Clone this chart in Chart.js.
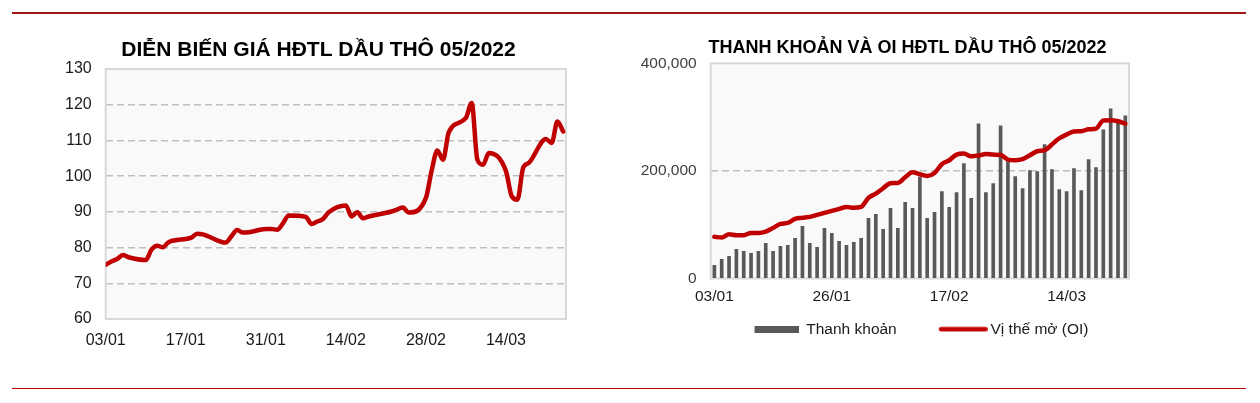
<!DOCTYPE html>
<html lang="vi">
<head>
<meta charset="utf-8">
<title>HĐTL dầu thô 05/2022</title>
<script src="https://cdn.jsdelivr.net/npm/chart.js@4.4.1/dist/chart.umd.min.js"></script>
<style>
  html, body { margin: 0; padding: 0; background: #fff; width: 1260px; height: 403px; overflow: hidden; }
  .rule { position: absolute; left: 12px; width: 1234px; height: 1.5px; }
  #ruleTop { top: 12px; background: #a31515; }
  #ruleBottom { top: 387.5px; background: #c00000; }
  .box { position: absolute; }
  #priceBox { left: 40px; top: 25px; width: 557px; height: 326px; }
  #volBox { left: 620px; top: 25px; width: 575px; height: 322px; }
</style>
</head>
<body>
<div class="rule" id="ruleTop"></div>
<div class="box" id="priceBox"><canvas id="priceChart"></canvas></div>
<div class="box" id="volBox"><canvas id="volChart"></canvas></div>
<div class="rule" id="ruleBottom"></div>
<script>
// trading days (dd/mm, 2022)
const tradeDates = [
  '03/01','04/01','05/01','06/01','07/01','10/01','11/01','12/01','13/01','14/01',
  '18/01','19/01','20/01','21/01','24/01','25/01','26/01','27/01','28/01','31/01',
  '01/02','02/02','03/02','04/02','07/02','08/02','09/02','10/02','11/02','14/02',
  '15/02','16/02','17/02','18/02','22/02','23/02','24/02','25/02','28/02',
  '01/03','02/03','03/03','04/03','07/03','08/03','09/03','10/03','11/03','14/03',
  '15/03','16/03','17/03','18/03','21/03','22/03','23/03','24/03'
];

// left chart: futures price
const crudePrice = [
  75.2, 76.1, 76.8, 77.9, 77.3, 76.5, 79.4, 80.5, 80.1, 81.5,
  82.8, 83.9, 83.7, 83.1, 81.4, 83.2, 84.9, 84.2, 84.3, 85.2,
  85.2, 85.0, 86.8, 89.0, 88.6, 86.6, 87.3, 88.0, 89.9, 91.8,
  88.7, 89.9, 88.2, 88.7, 90.1, 90.7, 91.2, 89.8, 93.9,
  101.5, 107.2, 104.6, 112.3, 116.3, 120.5, 104.6, 103.2, 106.5, 101.4,
  94.4, 93.4, 102.3, 103.7, 110.4, 109.3, 115.3, 112.5
];

// right chart: volume (bars) and open interest (line)
const volume = [
  24700, 35800, 41400, 54300, 50600, 46900, 50600, 65400, 50600, 59900,
  61700, 74700, 96900, 65400, 58000, 93200, 83900, 69100, 61700, 67300,
  74700, 111700, 119100, 91400, 130200, 93200, 141400, 130200, 188300, 111700,
  122800, 161700, 132100, 159900, 213600, 148800, 287700, 159900, 176500,
  284000, 217300, 189500, 167300, 200600, 198800, 248800, 202500, 165400, 161700,
  204300, 163600, 221000, 206200, 276500, 315400, 293000, 302500
];
const openInterest = [
  77400, 76200, 82400, 80500, 80500, 84800, 84800, 87300, 94100, 101500,
  103400, 110800, 112700, 114600, 118300, 122000, 125700, 129400, 133100, 131300,
  133100, 149800, 157900, 167800, 177100, 177700, 188200, 197500, 193800, 190700,
  196300, 212400, 219800, 230300, 232200, 227200, 228500, 231600, 230300,
  229700, 221100, 219800, 221700, 229100, 236500, 238400, 248900, 260700, 267500,
  273100, 273700, 277400, 278600, 293500, 294100, 292300, 287900
];

const FONT = "'Liberation Sans', Arial, sans-serif";
Chart.defaults.font.family = FONT;

// days since 03/01 so the left chart keeps calendar spacing
function dayOffset(label) {
  const [d, m] = label.split('/').map(Number);
  return Math.round((Date.UTC(2022, m - 1, d) - Date.UTC(2022, 0, 3)) / 86400000);
}
function offsetLabel(n) {
  const dt = new Date(Date.UTC(2022, 0, 3 + n));
  return String(dt.getUTCDate()).padStart(2, '0') + '/' + String(dt.getUTCMonth() + 1).padStart(2, '0');
}

// dashed grid, but not on the frame edges
const gridColor = c => (c.tick && (c.tick.value <= c.scale.min || c.tick.value >= c.scale.max)) ? 'rgba(0,0,0,0)' : '#bfbfbf';

// grey plot background + light frame
const plotFrame = {
  id: 'plotFrame',
  beforeDraw(chart) {
    const { ctx, chartArea: a } = chart;
    ctx.save();
    ctx.fillStyle = '#f9f9f9';
    ctx.fillRect(a.left, a.top, a.width, a.height);
    ctx.restore();
  },
  beforeDatasetsDraw(chart) {
    const { ctx, chartArea: a } = chart;
    ctx.save();
    ctx.strokeStyle = '#d9d9d9';
    ctx.lineWidth = 2;
    ctx.strokeRect(a.left, a.top, a.width, a.height);
    ctx.restore();
  }
};

// spacer axis on the right so title/legend sit where they should
const spacerAxis = w => ({
  position: 'right', display: true,
  grid: { display: false }, border: { display: false }, ticks: { display: false },
  afterFit: s => { s.width = w; }
});

new Chart(document.getElementById('priceChart'), {
  type: 'line',
  data: {
    datasets: [{
      label: 'Giá HĐTL dầu thô 05/2022',
      data: tradeDates.map((d, i) => ({ x: dayOffset(d), y: crudePrice[i] })),
      borderColor: '#c00000',
      borderWidth: 4.5,
      pointRadius: 0,
      cubicInterpolationMode: 'monotone',
      borderCapStyle: 'round',
      borderJoinStyle: 'round',
      xAxisID: 'x', yAxisID: 'y'
    }]
  },
  options: {
    responsive: true, maintainAspectRatio: false, animation: false,
    plugins: {
      legend: { display: false },
      tooltip: { enabled: false },
      title: {
        display: true, text: 'DIỄN BIẾN GIÁ HĐTL DẦU THÔ 05/2022', color: '#000',
        font: { size: 21, weight: 'bold' }, padding: { top: 12.6, bottom: 6.2 }
      }
    },
    scales: {
      x: {
        type: 'linear', min: 0, max: 80.5,
        grid: { display: false, drawTicks: false }, border: { display: false },
        ticks: { stepSize: 14, includeBounds: false, padding: 12, maxRotation: 0, color: '#1a1a1a', font: { size: 16 }, callback: v => offsetLabel(v) },
        afterFit: s => { s.height = 32; }
      },
      y: {
        min: 60, max: 130,
        grid: { color: gridColor, lineWidth: 1.5, drawTicks: false },
        border: { display: false, dash: [7, 4] },
        ticks: { stepSize: 10, padding: 14, color: '#1a1a1a', font: { size: 16 } },
        afterFit: s => { s.width = 65.7; }
      },
      yPad: spacerAxis(31)
    }
  },
  plugins: [plotFrame]
});

// legend swatches (drawn inside a 72px legend box, text follows it)
function swatch(w, h, draw) {
  const c = document.createElement('canvas');
  c.width = w; c.height = h;
  draw(c.getContext('2d'));
  return c;
}
const legendBar = swatch(72, 7, g => { g.fillStyle = '#595959'; g.fillRect(28, 0, 44, 7); });
const legendLine = swatch(82, 6, g => {
  g.strokeStyle = '#c00000'; g.lineWidth = 4.5; g.lineCap = 'round';
  g.beginPath(); g.moveTo(35.25, 3); g.lineTo(79.75, 3); g.stroke();
});

new Chart(document.getElementById('volChart'), {
  type: 'bar',
  data: {
    labels: tradeDates,
    datasets: [
      {
        type: 'bar', label: 'Thanh khoản', data: volume,
        backgroundColor: '#595959', barThickness: 3, order: 2,
        pointStyle: legendBar, yAxisID: 'y'
      },
      {
        type: 'line', label: 'Vị thế mở (OI)', data: openInterest,
        borderColor: '#c00000', backgroundColor: '#c00000', borderWidth: 4.5,
        pointRadius: 0, cubicInterpolationMode: 'monotone', borderCapStyle: 'round',
        order: 1, pointStyle: legendLine, yAxisID: 'y'
      }
    ]
  },
  options: {
    responsive: true, maintainAspectRatio: false, animation: false,
    plugins: {
      tooltip: { enabled: false },
      title: {
        display: true, text: 'THANH KHOẢN VÀ OI HĐTL DẦU THÔ 05/2022', color: '#000',
        font: { size: 18, weight: 'bold' }, padding: { top: 12.2, bottom: 4.5 }
      },
      legend: {
        position: 'bottom',
        labels: {
          usePointStyle: true, pointStyleWidth: 72, padding: 14,
          color: '#1a1a1a', font: { size: 15.5 },
          sort: (a, b) => a.datasetIndex - b.datasetIndex
        }
      }
    },
    scales: {
      x: {
        offset: true,
        grid: { display: false, drawTicks: false }, border: { display: false },
        ticks: { autoSkip: false, maxRotation: 0, padding: 9.4, color: '#1a1a1a', font: { size: 15.5 },
          callback: (v, i) => (i % 16 === 0 ? tradeDates[i] : '') },
        afterFit: s => { s.height = 29; }
      },
      y: {
        min: 0, max: 400000,
        grid: { color: gridColor, lineWidth: 1.5, drawTicks: false },
        border: { display: false, dash: [7, 4] },
        ticks: { stepSize: 200000, padding: 14, color: '#404040', font: { size: 15.5 }, callback: v => v.toLocaleString('en-US') },
        afterFit: s => { s.width = 90.7; }
      },
      yPad: spacerAxis(66)
    }
  },
  plugins: [plotFrame]
});
</script>
</body>
</html>
